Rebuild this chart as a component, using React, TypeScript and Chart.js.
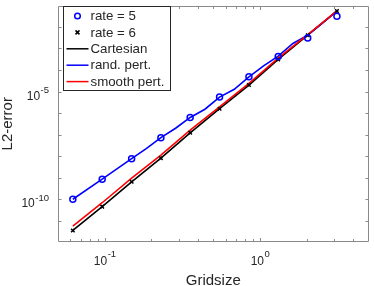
import React, { useEffect, useRef } from "react";
import { Chart, registerables } from "chart.js";
Chart.register(...registerables);

// ---- data ----
const gridsize = [0.0623, 0.0963, 0.149, 0.230, 0.355, 0.549, 0.849, 1.31, 2.03, 3.13];
const rate5 = [9.7e-11, 8.4e-10, 7.5e-9, 7.1e-8, 6.2e-7, 5.5e-6, 4.8e-5, 4.3e-4, 3.1e-3, 3.2e-2];
const rate6 = [3.44e-12, 4.4e-11, 6.3e-10, 8.0e-9, 1.2e-7, 1.58e-6, 2.0e-5, 3.1e-4, 4.15e-3, 5.5e-2];
const cartesian = [3.44e-12, 4.4e-11, 6.3e-10, 8.0e-9, 1.2e-7, 1.58e-6, 2.0e-5, 3.1e-4, 4.15e-3, 5.5e-2];
const smoothPert = [5.5e-12, 6.7e-11, 9.3e-10, 1.11e-8, 1.59e-7, 1.95e-6, 2.38e-5, 3.57e-4, 4.37e-3, 5.6e-2];
const randPertX = [0.0623, 0.0963, 0.149, 0.185, 0.230, 0.286, 0.355, 0.442, 0.549, 0.683, 0.849, 1.055, 1.31, 1.63, 2.03, 2.52, 3.13];
const randPert = [9.7e-11, 8.4e-10, 7.5e-9, 2.2e-8, 7.1e-8, 1.96e-7, 6.2e-7, 1.5e-6, 5.5e-6, 1.27e-5, 4.8e-5, 1.55e-4, 4.4e-4, 1.71e-3, 4.15e-3, 1.53e-2, 5.56e-2];

const xTickValues = [0.06, 0.07, 0.08, 0.09, 0.1, 0.2, 0.3, 0.4, 0.5, 0.6, 0.7, 0.8, 0.9, 1, 2, 3, 4];
const xLabelValues = [0.1, 1];
const xLabelExps = ["-1", "0"];
const yTickValues = [1e-11, 1e-10, 1e-9, 1e-8, 1e-7, 1e-6, 1e-5, 1e-4, 1e-3, 1e-2];
const yLabelValues = [1e-10, 1e-5];
const yLabelExps = ["-10", "-5"];
const legendLabels = ["rate = 5", "rate = 6", "Cartesian", "rand. pert.", "smooth pert."];

const FONT = '"Liberation Sans", Arial, Helvetica, sans-serif';
const BLUE = "#0000ff";
const RED = "#ff0000";
const BLACK = "#000000";
const AXIS = "#8a8a8a";
const TEXT = "#262626";

const pts = (xs: number[], ys: number[]) => xs.map((x, i) => ({ x, y: ys[i] }));

const App = () => {
  const ref = useRef<HTMLCanvasElement>(null);
  useEffect(() => {
    const canvas = ref.current!;
    const axesPlugin = {
      id: "matlabAxes",
      afterDraw(chart: any) {
        const ctx = chart.ctx as CanvasRenderingContext2D;
        const xs = chart.scales.x;
        const ys = chart.scales.y;
        const { left, right, top, bottom } = chart.chartArea;
        const L = Math.round(left) + 0.5;
        const R = Math.round(right) - 0.5;
        const T = Math.round(top) + 0.5;
        const B = Math.round(bottom) - 0.5;
        ctx.save();
        ctx.strokeStyle = AXIS;
        ctx.lineWidth = 1;
        ctx.beginPath();
        ctx.rect(L, T, R - L, B - T);
        ctx.stroke();
        // x ticks
        ctx.beginPath();
        xTickValues.forEach((v) => {
          const px = Math.round(xs.getPixelForValue(v)) + 0.5;
          const len = xLabelValues.includes(v) ? 3.5 : 2.5;
          ctx.moveTo(px, B);
          ctx.lineTo(px, B - len);
          ctx.moveTo(px, T);
          ctx.lineTo(px, T + len);
        });
        yTickValues.forEach((v) => {
          const py = Math.round(ys.getPixelForValue(v)) + 0.5;
          ctx.moveTo(L, py);
          ctx.lineTo(L + 3, py);
          ctx.moveTo(R, py);
          ctx.lineTo(R - 3, py);
        });
        ctx.stroke();
        // tick labels
        ctx.fillStyle = TEXT;
        ctx.textBaseline = "alphabetic";
        ctx.textAlign = "left";
        const big = `12px ${FONT}`;
        const small = `9.5px ${FONT}`;
        xLabelValues.forEach((v, i) => {
          const px = xs.getPixelForValue(v);
          ctx.font = big;
          const w1 = ctx.measureText("10").width;
          ctx.font = small;
          const w2 = ctx.measureText(xLabelExps[i]).width;
          const x0 = px - (w1 + w2) / 2;
          ctx.font = big;
          ctx.fillText("10", x0, bottom + 23);
          ctx.font = small;
          ctx.fillText(xLabelExps[i], x0 + w1 + 0.5, bottom + 14.5);
        });
        yLabelValues.forEach((v, i) => {
          const py = ys.getPixelForValue(v);
          ctx.font = small;
          const w2 = ctx.measureText(yLabelExps[i]).width;
          ctx.font = big;
          const w1 = ctx.measureText("10").width;
          const xEnd = left - 9;
          ctx.font = big;
          ctx.fillText("10", xEnd - w2 - 0.5 - w1, py + 8.4);
          ctx.font = small;
          ctx.fillText(yLabelExps[i], xEnd - w2, py + 1.7);
        });
        // axis titles
        ctx.font = `15px ${FONT}`;
        ctx.textAlign = "center";
        ctx.fillText("Gridsize", (left + right) / 2, 285);
        ctx.save();
        ctx.translate(12, (top + bottom) / 2);
        ctx.rotate(-Math.PI / 2);
        ctx.fillText("L2-error", 0, 0);
        ctx.restore();
        // legend
        const lx = 63.5, ly = 6.5, lw = 107, lh = 84;
        ctx.fillStyle = "#ffffff";
        ctx.fillRect(lx, ly, lw, lh);
        ctx.strokeStyle = TEXT;
        ctx.lineWidth = 1;
        ctx.strokeRect(lx, ly, lw, lh);
        ctx.font = `13.3px ${FONT}`;
        ctx.textAlign = "left";
        ctx.textBaseline = "middle";
        legendLabels.forEach((lab, i) => {
          const y = 16 + i * 16.4;
          ctx.fillStyle = TEXT;
          ctx.fillText(lab, 90.5, y + 0.5);
          if (i === 0) {
            ctx.strokeStyle = BLUE;
            ctx.lineWidth = 1.5;
            ctx.beginPath();
            ctx.arc(77.5, y, 2.8, 0, Math.PI * 2);
            ctx.stroke();
          } else if (i === 1) {
            ctx.strokeStyle = BLACK;
            ctx.lineWidth = 1.5;
            ctx.beginPath();
            ctx.moveTo(75.5, y - 2);
            ctx.lineTo(79.5, y + 2);
            ctx.moveTo(79.5, y - 2);
            ctx.lineTo(75.5, y + 2);
            ctx.stroke();
          } else {
            ctx.strokeStyle = i === 2 ? BLACK : i === 3 ? BLUE : RED;
            ctx.lineWidth = 1.5;
            ctx.beginPath();
            ctx.moveTo(66.5, y);
            ctx.lineTo(88.5, y);
            ctx.stroke();
          }
        });
        ctx.restore();
      },
    };

    const chart = new Chart(canvas, {
      type: "scatter",
      data: {
        datasets: [
          {
            label: "rate = 5",
            data: pts(gridsize, rate5),
            showLine: false,
            pointStyle: "circle",
            pointRadius: 3,
            borderColor: BLUE,
            borderWidth: 1.5,
            backgroundColor: "rgba(0,0,0,0)",
          },
          {
            label: "rate = 6",
            data: pts(gridsize, rate6),
            showLine: false,
            pointStyle: "crossRot",
            pointRadius: 2.5,
            borderColor: BLACK,
            borderWidth: 1.5,
            backgroundColor: BLACK,
          },
          {
            label: "smooth pert.",
            data: pts(gridsize, smoothPert),
            showLine: true,
            borderColor: RED,
            borderWidth: 1.6,
            pointRadius: 0,
          },
          {
            label: "rand. pert.",
            data: pts(randPertX, randPert),
            showLine: true,
            borderColor: BLUE,
            borderWidth: 1.6,
            pointRadius: 0,
          },
          {
            label: "Cartesian",
            data: pts(gridsize, cartesian),
            showLine: true,
            borderColor: BLACK,
            borderWidth: 1.6,
            pointRadius: 0,
          },
        ],
      },
      options: {
        responsive: false,
        animation: false,
        devicePixelRatio: 1,
        layout: { padding: { top: 0, right: 1, left: 0, bottom: 0 } },
        plugins: { legend: { display: false }, tooltip: { enabled: false } },
        scales: {
          x: {
            type: "logarithmic",
            min: 0.05,
            max: 5,
            grid: { display: false },
            border: { display: false },
            ticks: { display: false },
            afterFit: (s: any) => {
              s.height = 44;
            },
          },
          y: {
            type: "logarithmic",
            min: 1e-12,
            max: 1e-1,
            grid: { display: false },
            border: { display: false },
            ticks: { display: false },
            afterFit: (s: any) => {
              s.width = 58;
            },
          },
        },
      },
      plugins: [axesPlugin],
    } as any);
    return () => chart.destroy();
  }, []);
  return (
    <div style={{ position: "fixed", left: 0, top: 0, width: 374, height: 286, background: "#ffffff" }}>
      <canvas ref={ref} width={374} height={286} style={{ display: "block" }} />
    </div>
  );
};

export default App;
